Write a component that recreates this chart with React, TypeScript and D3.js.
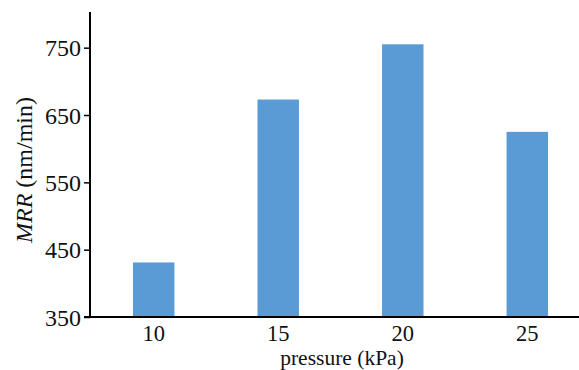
import { useEffect, useRef } from "react";
import * as d3 from "d3";

const pressures = ["10", "15", "20", "25"];
const mrrValues = [431, 673, 755, 625];
const yTicks = [350, 450, 550, 650, 750];

const BAR_COLOR = "#5b9bd5";
const FONT = "'Liberation Serif', 'Times New Roman', serif";

export default function App() {
  const ref = useRef<SVGSVGElement>(null);

  useEffect(() => {
    if (!ref.current) return;
    const svg = d3.select(ref.current);
    svg.selectAll("*").remove();

    const width = 579;
    const height = 370;
    const marginLeft = 90;
    const marginTop = 12;
    const axisY = 317;

    const x = d3.scaleBand()
      .domain(pressures)
      .range([marginLeft, 591])
      .paddingInner(0.667)
      .paddingOuter(0.345);

    const y = d3.scaleLinear()
      .domain([350, 803])
      .range([axisY, marginTop]);

    svg.attr("width", width).attr("height", height)
      .attr("viewBox", [0, 0, width, height]);

    // bars
    svg.append("g")
      .attr("fill", BAR_COLOR)
      .selectAll("rect")
      .data(pressures)
      .join("rect")
        .attr("x", d => x(d)!)
        .attr("width", x.bandwidth())
        .attr("y", (_, i) => y(mrrValues[i]))
        .attr("height", (_, i) => y(350) - y(mrrValues[i]));

    // y axis
    svg.append("g")
      .attr("transform", `translate(${marginLeft},0)`)
      .call(d3.axisLeft(y).tickValues(yTicks).tickSize(6).tickPadding(3).tickFormat(d3.format("d")))
      .call(g => g.select(".domain")
        .attr("d", `M0,${marginTop}V${axisY}`)
        .attr("stroke-width", 2))
      .call(g => g.selectAll(".tick line").attr("stroke-width", 1.5))
      .call(g => g.selectAll(".tick text")
        .attr("font-family", FONT)
        .attr("font-size", 24)
        .attr("fill", "#111")
        .attr("dy", "0.34em"));

    // x axis, no tick marks
    svg.append("g")
      .attr("transform", `translate(0,${axisY})`)
      .call(d3.axisBottom(x).tickSize(0).tickPadding(0))
      .call(g => g.select(".domain")
        .attr("d", `M${marginLeft - 6},0H${width}`)
        .attr("stroke-width", 2))
      .call(g => g.selectAll(".tick text")
        .attr("font-family", FONT)
        .attr("font-size", 22.5)
        .attr("fill", "#111")
        .attr("y", 24)
        .attr("dy", 0));

    // axis titles
    svg.append("text")
      .attr("x", 342)
      .attr("y", 365)
      .attr("text-anchor", "middle")
      .attr("font-family", FONT)
      .attr("font-size", 21.5)
      .attr("fill", "#111")
      .text("pressure (kPa)");

    const yl = svg.append("text")
      .attr("transform", "translate(32,170) rotate(-90)")
      .attr("text-anchor", "middle")
      .attr("font-family", FONT)
      .attr("font-size", 24)
      .attr("fill", "#111");
    yl.append("tspan").attr("font-style", "italic").text("MRR");
    yl.append("tspan").text(" (nm/min)");
  }, []);

  return (
    <svg ref={ref} style={{ position: "absolute", left: 0, top: 0, background: "#fff" }} />
  );
}
